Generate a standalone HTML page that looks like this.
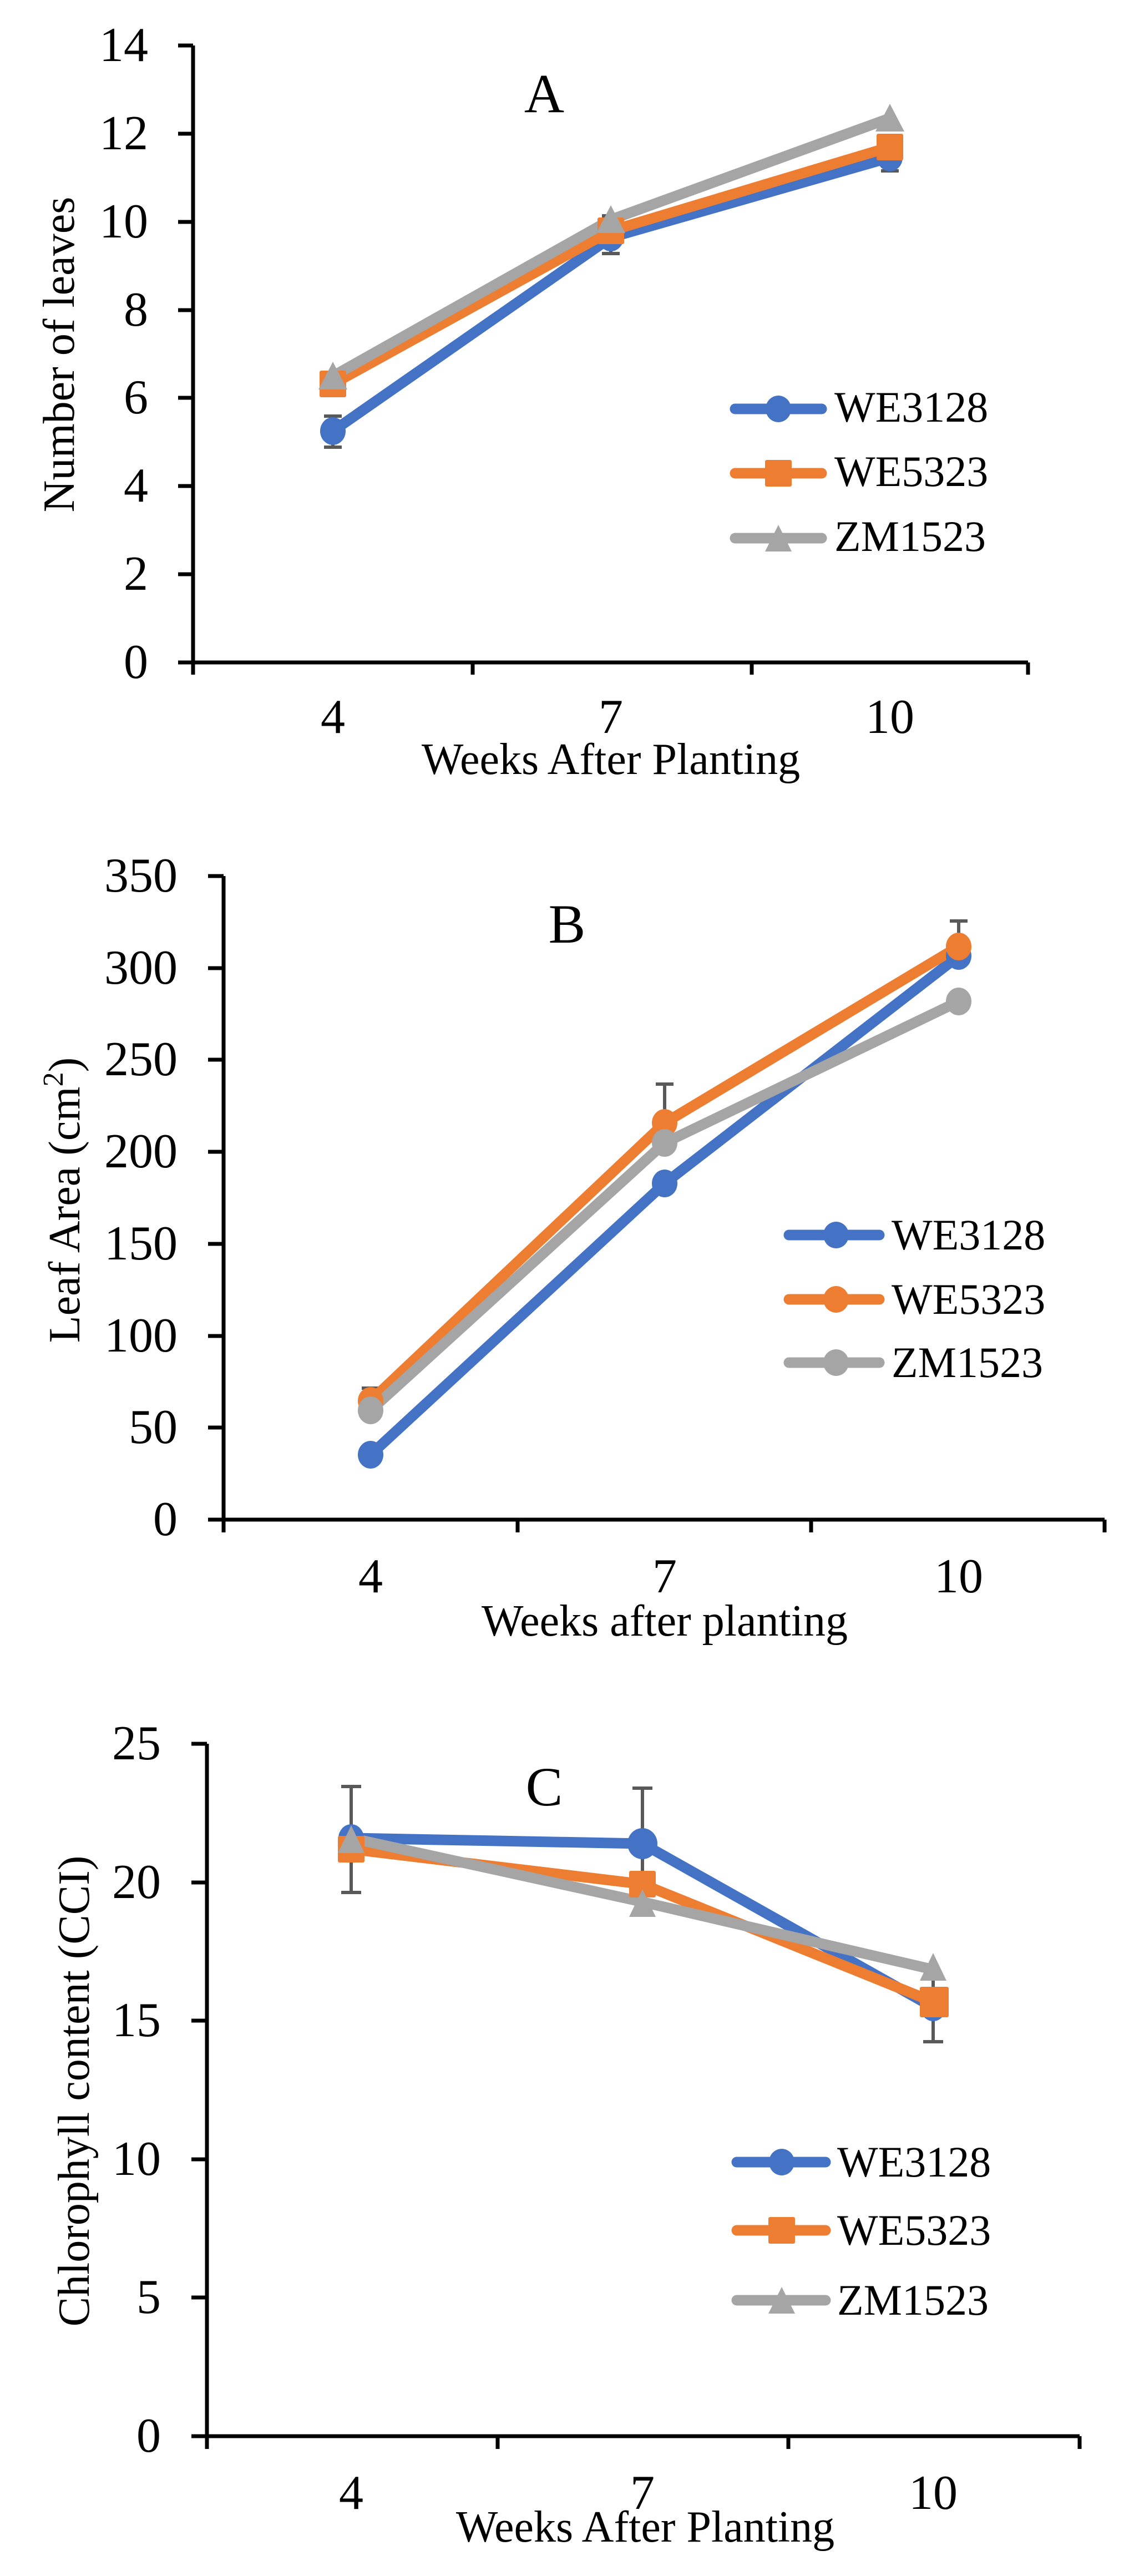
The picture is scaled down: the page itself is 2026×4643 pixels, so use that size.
<!DOCTYPE html>
<html><head><meta charset="utf-8"><style>
html,body{margin:0;padding:0;background:#fff}
#wrap{position:relative;width:2026px;height:4643px;overflow:hidden}
svg{display:block;position:absolute;left:0;top:0}
.t{position:absolute;font-family:"Liberation Serif","Times New Roman",serif;color:#000;line-height:1;white-space:nowrap}
.tk{font-size:88px}
.yr{text-align:right;width:200px}
.xc{text-align:center;width:200px}
.lg{font-size:78px}
</style></head><body><div id="wrap">
<svg width="2026" height="4643" viewBox="0 0 2026 4643" xmlns="http://www.w3.org/2000/svg">
<rect width="2026" height="4643" fill="#fff"/>
<!-- PANEL A -->
<g stroke="#000" stroke-width="7" fill="none">
<line x1="348" y1="82" x2="348" y2="1194"/>
<line x1="345" y1="1194" x2="1853" y2="1194"/>
<line x1="321" y1="82" x2="348" y2="82"/><line x1="321" y1="241" x2="348" y2="241"/>
<line x1="321" y1="400" x2="348" y2="400"/><line x1="321" y1="559" x2="348" y2="559"/>
<line x1="321" y1="717" x2="348" y2="717"/><line x1="321" y1="876" x2="348" y2="876"/>
<line x1="321" y1="1035" x2="348" y2="1035"/><line x1="321" y1="1194" x2="348" y2="1194"/>
<line x1="348" y1="1194" x2="348" y2="1216"/><line x1="852" y1="1194" x2="852" y2="1216"/>
<line x1="1355" y1="1194" x2="1355" y2="1216"/><line x1="1853" y1="1194" x2="1853" y2="1216"/>
</g>
<text font-family="Liberation Serif, serif" font-size="80" x="1101" y="1395" text-anchor="middle">Weeks After Planting</text>
<text font-family="Liberation Serif, serif" font-size="80" transform="translate(133,639) rotate(-90)" text-anchor="middle">Number of leaves</text>
<text font-family="Liberation Serif, serif" font-size="100" x="981" y="202" text-anchor="middle">A</text>
<g stroke="#595959" stroke-width="6">
<line x1="600" y1="750" x2="600" y2="806"/><line x1="584" y1="806" x2="616" y2="806"/><line x1="584" y1="750" x2="616" y2="750"/>
<line x1="1101" y1="389" x2="1101" y2="457"/><line x1="1085" y1="457" x2="1117" y2="457"/><line x1="1085" y1="389" x2="1117" y2="389"/>
<line x1="1604" y1="265" x2="1604" y2="308"/><line x1="1588" y1="308" x2="1620" y2="308"/>
</g>
<g fill="none" stroke-width="19" stroke-linejoin="round" stroke-linecap="round">
<polyline stroke="#4472C4" points="600,777 1101,428 1604,284"/>
<polyline stroke="#ED7D31" points="600,692 1101,416 1604,265"/>
<polyline stroke="#A5A5A5" points="600,678 1101,396 1604,213"/>
</g>
<g fill="#4472C4"><ellipse cx="600" cy="777" rx="23" ry="25"/><ellipse cx="1101" cy="428" rx="23" ry="25"/><ellipse cx="1604" cy="284" rx="23" ry="25"/></g>
<g fill="#ED7D31"><rect x="576" y="668" width="48" height="48" rx="3"/><rect x="1077" y="392" width="48" height="48" rx="3"/><rect x="1580" y="241" width="48" height="48" rx="3"/></g>
<g fill="#A5A5A5"><polygon points="600,652 626,702 574,702"/><polygon points="1101,370 1127,420 1075,420"/><polygon points="1604,187 1630,237 1578,237"/></g>
<g stroke-width="19" stroke-linecap="round">
<line x1="1325" y1="737" x2="1481" y2="737" stroke="#4472C4"/>
<line x1="1325" y1="853" x2="1481" y2="853" stroke="#ED7D31"/>
<line x1="1325" y1="970" x2="1481" y2="970" stroke="#A5A5A5"/>
</g>
<ellipse cx="1403" cy="737" rx="23" ry="24" fill="#4472C4"/>
<rect x="1379" y="829" width="48" height="48" rx="3" fill="#ED7D31"/>
<polygon points="1403,946 1427,994 1379,994" fill="#A5A5A5"/>

<!-- PANEL B -->
<g stroke="#000" stroke-width="7" fill="none">
<line x1="403" y1="1579" x2="403" y2="2739"/>
<line x1="400" y1="2739" x2="1991" y2="2739"/>
<line x1="375" y1="1579" x2="403" y2="1579"/><line x1="375" y1="1745" x2="403" y2="1745"/>
<line x1="375" y1="1910" x2="403" y2="1910"/><line x1="375" y1="2076" x2="403" y2="2076"/>
<line x1="375" y1="2242" x2="403" y2="2242"/><line x1="375" y1="2408" x2="403" y2="2408"/>
<line x1="375" y1="2573" x2="403" y2="2573"/><line x1="375" y1="2739" x2="403" y2="2739"/>
<line x1="403" y1="2739" x2="403" y2="2762"/><line x1="933" y1="2739" x2="933" y2="2762"/>
<line x1="1462" y1="2739" x2="1462" y2="2762"/><line x1="1991" y1="2739" x2="1991" y2="2762"/>
</g>
<text font-family="Liberation Serif, serif" font-size="80" x="1198" y="2948" text-anchor="middle">Weeks after planting</text>
<text font-family="Liberation Serif, serif" font-size="80" transform="translate(143,2163) rotate(-90)" text-anchor="middle">Leaf Area (cm<tspan font-size="52" dy="-30">2</tspan><tspan dy="30">)</tspan></text>
<text font-family="Liberation Serif, serif" font-size="100" x="1022" y="1699" text-anchor="middle">B</text>
<g stroke="#595959" stroke-width="6">
<line x1="668" y1="2502" x2="668" y2="2540"/><line x1="652" y1="2502" x2="684" y2="2502"/>
<line x1="1198" y1="1954" x2="1198" y2="2030"/><line x1="1182" y1="1954" x2="1214" y2="1954"/>
<line x1="1728" y1="1660" x2="1728" y2="1710"/><line x1="1712" y1="1660" x2="1744" y2="1660"/>
</g>
<g fill="none" stroke-width="19" stroke-linejoin="round" stroke-linecap="round">
<polyline stroke="#4472C4" points="668,2622 1198,2133 1728,1723"/>
<polyline stroke="#ED7D31" points="668,2525 1198,2024 1728,1706"/>
<polyline stroke="#A5A5A5" points="668,2542 1198,2060 1728,1805"/>
</g>
<g fill="#4472C4"><ellipse cx="668" cy="2622" rx="23" ry="25"/><ellipse cx="1198" cy="2133" rx="23" ry="25"/><ellipse cx="1728" cy="1723" rx="23" ry="25"/></g>
<g fill="#ED7D31"><ellipse cx="668" cy="2525" rx="23" ry="25"/><ellipse cx="1198" cy="2024" rx="23" ry="25"/><ellipse cx="1728" cy="1706" rx="23" ry="25"/></g>
<g fill="#A5A5A5"><ellipse cx="668" cy="2542" rx="23" ry="25"/><ellipse cx="1198" cy="2060" rx="23" ry="25"/><ellipse cx="1728" cy="1805" rx="23" ry="25"/></g>
<g stroke-width="19" stroke-linecap="round">
<line x1="1422" y1="2226" x2="1585" y2="2226" stroke="#4472C4"/>
<line x1="1422" y1="2342" x2="1585" y2="2342" stroke="#ED7D31"/>
<line x1="1422" y1="2456" x2="1585" y2="2456" stroke="#A5A5A5"/>
</g>
<ellipse cx="1507" cy="2226" rx="23" ry="24" fill="#4472C4"/>
<ellipse cx="1507" cy="2342" rx="23" ry="24" fill="#ED7D31"/>
<ellipse cx="1507" cy="2456" rx="23" ry="24" fill="#A5A5A5"/>

<!-- PANEL C -->
<g stroke="#000" stroke-width="7" fill="none">
<line x1="373" y1="3143" x2="373" y2="4391"/>
<line x1="370" y1="4391" x2="1946" y2="4391"/>
<line x1="345" y1="3143" x2="373" y2="3143"/><line x1="345" y1="3393" x2="373" y2="3393"/>
<line x1="345" y1="3642" x2="373" y2="3642"/><line x1="345" y1="3892" x2="373" y2="3892"/>
<line x1="345" y1="4141" x2="373" y2="4141"/><line x1="345" y1="4391" x2="373" y2="4391"/>
<line x1="373" y1="4391" x2="373" y2="4414"/><line x1="897" y1="4391" x2="897" y2="4414"/>
<line x1="1421" y1="4391" x2="1421" y2="4414"/><line x1="1946" y1="4391" x2="1946" y2="4414"/>
</g>
<text font-family="Liberation Serif, serif" font-size="80" x="1163" y="4581" text-anchor="middle">Weeks After Planting</text>
<text font-family="Liberation Serif, serif" font-size="80" transform="translate(160,3769) rotate(-90)" text-anchor="middle">Chlorophyll content (CCI)</text>
<text font-family="Liberation Serif, serif" font-size="100" x="981" y="3254" text-anchor="middle">C</text>
<g stroke="#595959" stroke-width="6">
<line x1="633" y1="3220" x2="633" y2="3411"/><line x1="615" y1="3220" x2="651" y2="3220"/><line x1="615" y1="3411" x2="651" y2="3411"/>
<line x1="1158" y1="3223" x2="1158" y2="3423"/><line x1="1140" y1="3223" x2="1176" y2="3223"/>
<line x1="1682" y1="3543" x2="1682" y2="3680"/><line x1="1664" y1="3680" x2="1700" y2="3680"/>
</g>
<g fill="none" stroke-width="19" stroke-linejoin="round" stroke-linecap="round">
<polyline stroke="#4472C4" points="633,3313 1158,3323 1682,3618"/>
<polyline stroke="#ED7D31" points="633,3333 1158,3396 1682,3608"/>
<polyline stroke="#A5A5A5" points="633,3313 1158,3428 1682,3550"/>
</g>
<g fill="#4472C4"><ellipse cx="633" cy="3313" rx="23" ry="25"/><ellipse cx="1158" cy="3323" rx="27" ry="28"/><ellipse cx="1682" cy="3618" rx="23" ry="25"/></g>
<g fill="#ED7D31"><rect x="609" y="3309" width="48" height="48" rx="3"/><rect x="1134" y="3372" width="48" height="48" rx="3"/><rect x="1658" y="3581" width="52" height="55" rx="3"/></g>
<g fill="#A5A5A5"><polygon points="633,3290 657,3340 609,3340"/><polygon points="1158,3405 1182,3455 1134,3455"/><polygon points="1682,3520 1706,3570 1658,3570"/></g>
<g stroke-width="19" stroke-linecap="round">
<line x1="1328" y1="3897" x2="1488" y2="3897" stroke="#4472C4"/>
<line x1="1328" y1="4020" x2="1488" y2="4020" stroke="#ED7D31"/>
<line x1="1328" y1="4146" x2="1488" y2="4146" stroke="#A5A5A5"/>
</g>
<ellipse cx="1409" cy="3897" rx="23" ry="24" fill="#4472C4"/>
<rect x="1385" y="3996" width="48" height="48" rx="3" fill="#ED7D31"/>
<polygon points="1409,4122 1433,4170 1385,4170" fill="#A5A5A5"/>
</svg>

<!-- HTML labels: Panel A -->
<div class="t tk yr" style="left:67px;top:38px">14</div>
<div class="t tk yr" style="left:67px;top:197px">12</div>
<div class="t tk yr" style="left:67px;top:356px">10</div>
<div class="t tk yr" style="left:67px;top:515px">8</div>
<div class="t tk yr" style="left:67px;top:673px">6</div>
<div class="t tk yr" style="left:67px;top:832px">4</div>
<div class="t tk yr" style="left:67px;top:991px">2</div>
<div class="t tk yr" style="left:67px;top:1150px">0</div>
<div class="t tk xc" style="left:500px;top:1249px">4</div>
<div class="t tk xc" style="left:1001px;top:1249px">7</div>
<div class="t tk xc" style="left:1504px;top:1249px">10</div>
<div class="t lg" style="left:1504px;top:695px">WE3128</div>
<div class="t lg" style="left:1504px;top:811px">WE5323</div>
<div class="t lg" style="left:1504px;top:928px">ZM1523</div>

<!-- Panel B -->
<div class="t tk yr" style="left:120px;top:1535px">350</div>
<div class="t tk yr" style="left:120px;top:1701px">300</div>
<div class="t tk yr" style="left:120px;top:1866px">250</div>
<div class="t tk yr" style="left:120px;top:2032px">200</div>
<div class="t tk yr" style="left:120px;top:2198px">150</div>
<div class="t tk yr" style="left:120px;top:2364px">100</div>
<div class="t tk yr" style="left:120px;top:2529px">50</div>
<div class="t tk yr" style="left:120px;top:2695px">0</div>
<div class="t tk xc" style="left:568px;top:2798px">4</div>
<div class="t tk xc" style="left:1098px;top:2798px">7</div>
<div class="t tk xc" style="left:1628px;top:2798px">10</div>
<div class="t lg" style="left:1607px;top:2187px">WE3128</div>
<div class="t lg" style="left:1607px;top:2303px">WE5323</div>
<div class="t lg" style="left:1607px;top:2417px">ZM1523</div>

<!-- Panel C -->
<div class="t tk yr" style="left:90px;top:3099px">25</div>
<div class="t tk yr" style="left:90px;top:3349px">20</div>
<div class="t tk yr" style="left:90px;top:3598px">15</div>
<div class="t tk yr" style="left:90px;top:3848px">10</div>
<div class="t tk yr" style="left:90px;top:4097px">5</div>
<div class="t tk yr" style="left:90px;top:4347px">0</div>
<div class="t tk xc" style="left:533px;top:4450px">4</div>
<div class="t tk xc" style="left:1058px;top:4450px">7</div>
<div class="t tk xc" style="left:1582px;top:4450px">10</div>
<div class="t lg" style="left:1509px;top:3858px">WE3128</div>
<div class="t lg" style="left:1509px;top:3981px">WE5323</div>
<div class="t lg" style="left:1509px;top:4107px">ZM1523</div>
</div></body></html>
